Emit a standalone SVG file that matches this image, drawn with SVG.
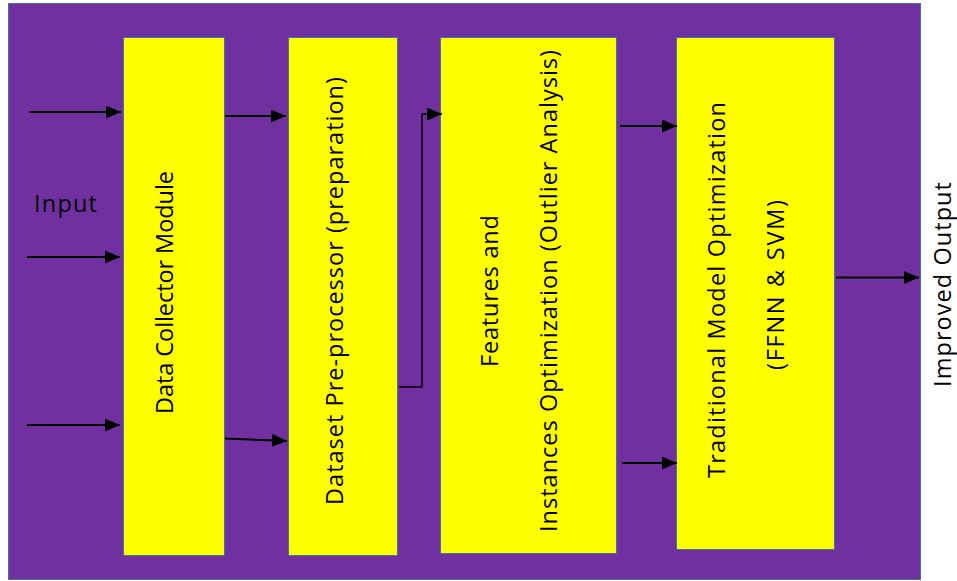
<svg xmlns="http://www.w3.org/2000/svg" width="957" height="581" viewBox="0 0 957 581">
<style>
.bg{fill:#7030A0;stroke:#41719C;stroke-width:1}
.box{fill:#FFFF00;stroke:#41719C;stroke-width:1}
.t{font-family:"Open Sans","DejaVu Sans",sans-serif;font-size:23.5px;fill:#000}
.c{fill:none;stroke:#000;stroke-width:2}
</style>
<defs>
<marker id="ah" markerUnits="userSpaceOnUse" markerWidth="16" markerHeight="14" refX="15" refY="6.5" orient="auto">
<path d="M0,0 L15,6.5 L0,13 z" fill="#000"/>
</marker>
</defs>
<rect class="bg" x="8.5" y="3.5" width="912" height="576"/>
<g id="box1"><rect class="box" x="123.5" y="37.5" width="101" height="518"/>
<text class="t" text-anchor="middle" textLength="243" lengthAdjust="spacing" transform="translate(173,292.5) rotate(-90)">Data Collector Module</text></g>
<g id="box2"><rect class="box" x="288.5" y="37.5" width="109" height="518"/>
<text class="t" text-anchor="middle" textLength="428" lengthAdjust="spacing" transform="translate(343,291) rotate(-90)">Dataset Pre-processor (preparation)</text></g>
<g id="box3"><rect class="box" x="440.5" y="37.5" width="176" height="516"/>
<text class="t" text-anchor="middle" textLength="152" lengthAdjust="spacing" transform="translate(498,291) rotate(-90)">Features and</text>
<text class="t" text-anchor="middle" textLength="482" lengthAdjust="spacing" transform="translate(557,291) rotate(-90)">Instances Optimization (Outlier Analysis)</text></g>
<g id="box4"><rect class="box" x="676.5" y="37.5" width="158" height="512"/>
<text class="t" text-anchor="middle" textLength="376" lengthAdjust="spacing" transform="translate(725,290) rotate(-90)">Traditional Model Optimization</text>
<text class="t" text-anchor="middle" textLength="170" lengthAdjust="spacing" transform="translate(784,285) rotate(-90)">(FFNN &amp; SVM)</text></g>
<g id="input"><text class="t" x="34" y="212" textLength="63" lengthAdjust="spacing">Input</text></g>
<g id="output"><text class="t" text-anchor="middle" textLength="205" lengthAdjust="spacing" transform="translate(951,284.5) rotate(-90)">Improved Output</text></g>
<g id="connectors">
<line class="c" x1="29" y1="112" x2="121" y2="112" marker-end="url(#ah)"/>
<line class="c" x1="27" y1="257" x2="120" y2="257" marker-end="url(#ah)"/>
<line class="c" x1="27" y1="425" x2="120" y2="425" marker-end="url(#ah)"/>
<line class="c" x1="225" y1="116" x2="286" y2="116" marker-end="url(#ah)"/>
<line class="c" x1="225" y1="438.5" x2="287" y2="441" marker-end="url(#ah)"/>
<polyline class="c" style="stroke-width:1.5" points="399,387 422,387 422,114 442,114" marker-end="url(#ah)"/>
<line class="c" x1="620" y1="126" x2="677" y2="126" marker-end="url(#ah)"/>
<line class="c" x1="622" y1="463" x2="677" y2="463" marker-end="url(#ah)"/>
<line class="c" x1="836" y1="277.5" x2="919" y2="277.5" marker-end="url(#ah)"/>
</g>
</svg>
